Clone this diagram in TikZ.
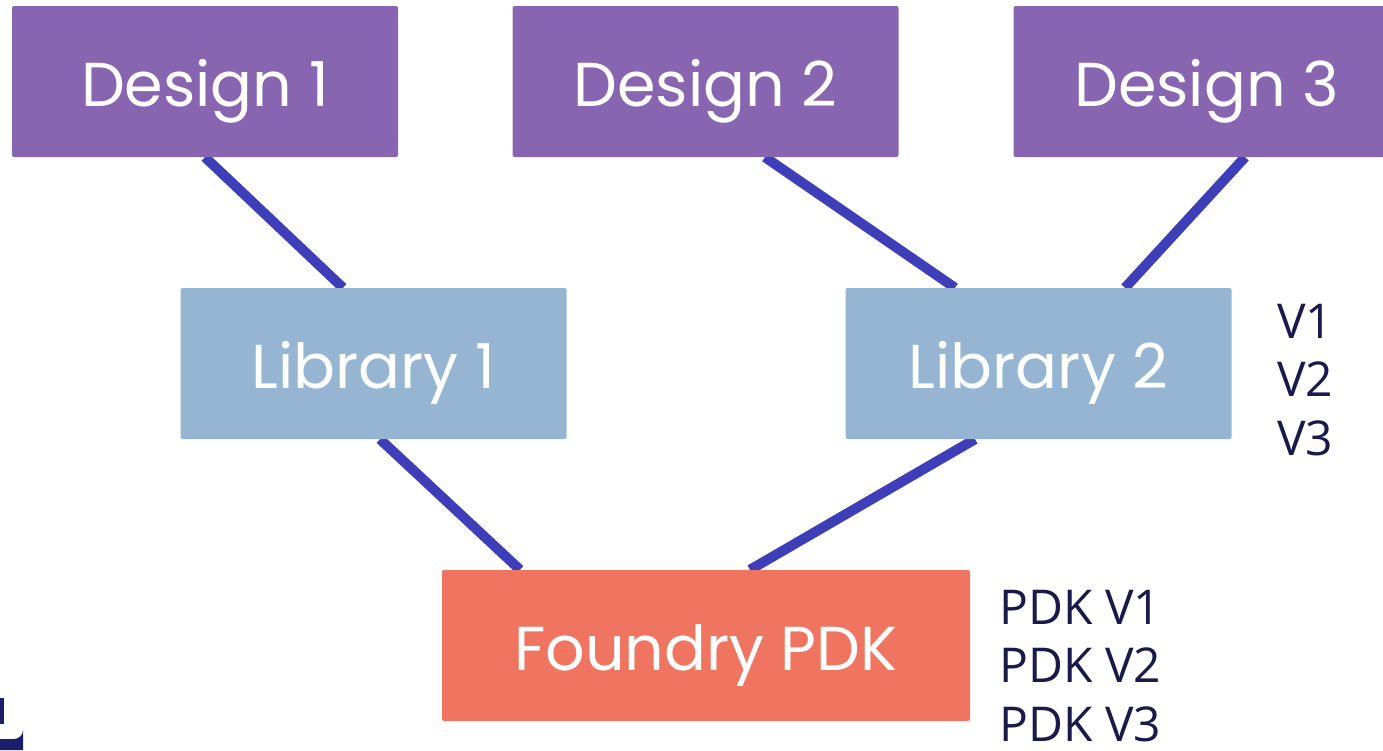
\documentclass[tikz,border=0pt]{standalone}
\usepackage{fontspec}
\setmainfont{Poppins}
\newfontfamily\labelfont{Open Sans}
\usetikzlibrary{backgrounds}
\definecolor{designc}{HTML}{8765B0}
\definecolor{libc}{HTML}{95B5D3}
\definecolor{pdkc}{HTML}{EF7560}
\definecolor{linkc}{HTML}{3E3EB8}
\definecolor{navy}{HTML}{1A1A4A}
\definecolor{logoc}{HTML}{1B1F6B}
\begin{document}
\begin{tikzpicture}[x=1pt,y=-1pt,
  box/.style={rounded corners=2pt, minimum width=386pt, minimum height=151pt, inner sep=0pt, text height=50pt, text depth=0pt, text=white, font=\fontsize{62}{64}\selectfont},
  design/.style={box, fill=designc},
  lib/.style={box, fill=libc},
  pdk/.style={box, fill=pdkc, minimum width=528pt},
  link/.style={draw=linkc, line width=10pt},
  ver/.style={text=navy, align=left, anchor=north west, inner sep=0pt, font=\labelfont\fontsize{48}{58.5}\selectfont}
]
\useasboundingbox (0,0) rectangle (1383,750);
\clip (0,0) rectangle (1383,750);
\node[design] (d1) at (205,81.5) {Design 1};
\node[design] (d2) at (705.5,81.5) {Design 2};
\node[design] (d3) at (1206.5,81.5) {Design 3};
\node[lib] (l1) at (373.5,363.5) {Library 1};
\node[lib] (l2) at (1038.5,363.5) {Library 2};
\node[pdk] (f) at (706,645.5) {Foundry PDK};
\begin{pgfonlayer}{background}
\draw[link] ([xshift=0pt]d1.south) -- ([xshift=-30.5pt]l1.north);
\draw[link] ([xshift=59.5pt]d2.south) -- ([xshift=-83.5pt]l2.north);
\draw[link] ([xshift=38.5pt]d3.south) -- ([xshift=86.5pt]l2.north);
\draw[link] ([xshift=6.5pt]l1.south) -- ([xshift=-186pt]f.north);
\draw[link] ([xshift=-63.5pt]l2.south) -- ([xshift=44pt]f.north);
\end{pgfonlayer}
\node[ver] (lv) at (1277,304) {V1\\V2\\V3};
\node[ver] (pv) at (999,590) {PDK V1\\PDK V2\\PDK V3};
\fill[logoc] (0,698) rectangle (4,724);
\fill[logoc] (0,739) -- (14,739) arc[start angle=90, end angle=0, radius=9] -- (23,750) -- (0,750) -- cycle;
\end{tikzpicture}
\end{document}
